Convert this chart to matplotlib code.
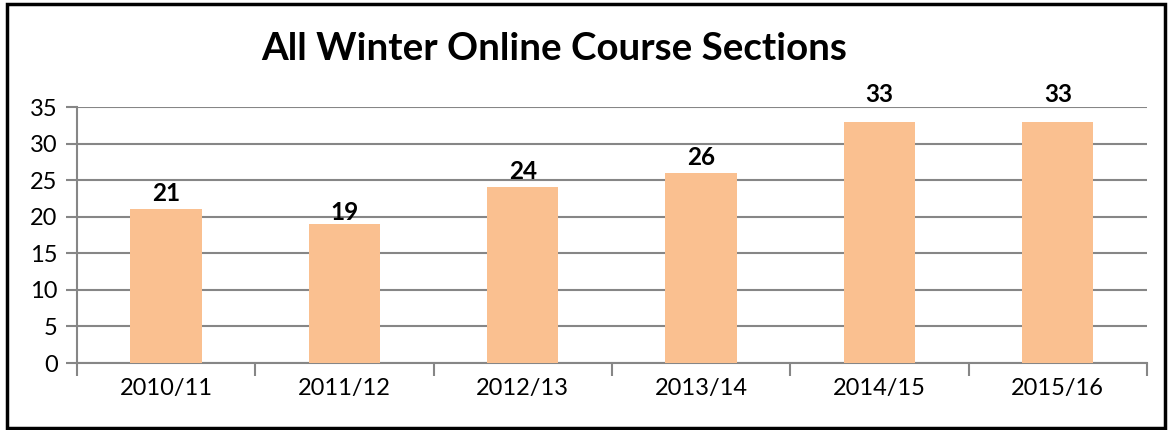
import matplotlib
matplotlib.use("Agg")
import matplotlib.pyplot as plt
from matplotlib.patches import Rectangle

years = ["2010/11", "2011/12", "2012/13", "2013/14", "2014/15", "2015/16"]
sections = [21, 19, 24, 26, 33, 33]
y_ticks = [0, 5, 10, 15, 20, 25, 30, 35]
# label lift above each bar, in points (the source places them unevenly)
label_lift = [3, 0, 3, 3, 11, 11]

plt.rcParams["font.family"] = ["Lato", "DejaVu Sans"]

fig = plt.figure(figsize=(11.7, 4.3), dpi=100)
ax = fig.add_axes([0.0658, 0.1558, 0.9145, 0.5953])

grid_col = "#868686"
x = list(range(len(years)))
ax.bar(x, sections, width=0.4, color="#FAC090", zorder=3)

for xi, v, lift in zip(x, sections, label_lift):
    ax.annotate(str(v), (xi, v), xytext=(0, lift), textcoords="offset points",
                ha="center", va="bottom", fontsize=17.5, fontweight="bold")

ax.set_xlim(-0.5, len(years) - 0.5)
ax.set_ylim(0, 35)
ax.set_yticks(y_ticks)
ax.set_yticklabels([str(t) for t in y_ticks], fontsize=17)
ax.yaxis.grid(True, color=grid_col, linewidth=1.5, zorder=0)

# category labels centred, tick marks on boundaries
ax.set_xticks([i - 0.5 for i in range(len(years) + 1)])
ax.set_xticklabels([])
ax.set_xticks(x, minor=True)
ax.set_xticklabels(years, minor=True, fontsize=17)
ax.tick_params(axis="x", which="major", length=9, width=1.5, color=grid_col, direction="out")
ax.tick_params(axis="x", which="minor", length=0, pad=11)
ax.tick_params(axis="y", length=8, width=1.5, color=grid_col, pad=6)

for s in ["top", "right"]:
    ax.spines[s].set_visible(False)
ax.spines["left"].set_color(grid_col)
ax.spines["left"].set_linewidth(1.5)
ax.spines["bottom"].set_color(grid_col)
ax.spines["bottom"].set_linewidth(1.5)

fig.text(0.474, 0.887, "All Winter Online Course Sections", ha="center", va="center",
         fontsize=27.7, fontweight="bold")

fig.patches.append(Rectangle((0.006, 0.004), 0.99, 0.986, transform=fig.transFigure,
                             fill=False, edgecolor="black", linewidth=2.5))

fig.savefig("out.png", dpi=100)
